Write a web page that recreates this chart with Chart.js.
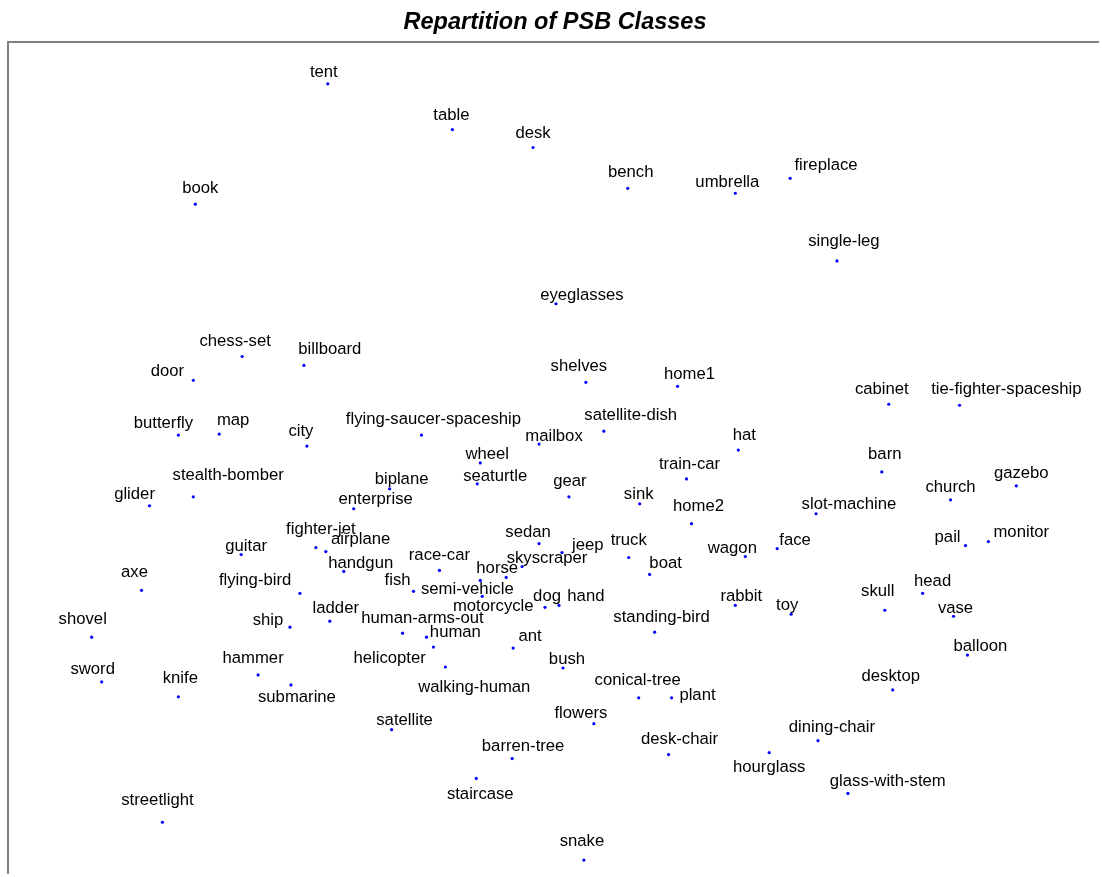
<!DOCTYPE html>
<html>
<head>
<meta charset="utf-8">
<script src="https://cdn.jsdelivr.net/npm/chart.js@4"></script>
<style>
  html, body { margin: 0; padding: 0; background: #fff; overflow: hidden; }
  canvas { display: block; }
</style>
</head>
<body>
<canvas id="psb_chart" width="1102" height="877"></canvas>
<script>
// 2D embedding of the PSB classes, one point per class
classes = ['tent', 'table', 'desk', 'book', 'bench', 'umbrella', 'fireplace', 'single-leg', 'eyeglasses',
  'chess-set', 'billboard', 'door', 'shelves', 'home1', 'cabinet', 'tie-fighter-spaceship', 'butterfly', 'map',
  'city', 'flying-saucer-spaceship', 'mailbox', 'satellite-dish', 'hat', 'wheel', 'seaturtle', 'train-car', 'barn',
  'gazebo', 'glider', 'stealth-bomber', 'biplane', 'enterprise', 'gear', 'sink', 'church', 'home2', 'slot-machine',
  'fighter-jet', 'airplane', 'guitar', 'sedan', 'jeep', 'truck', 'wagon', 'face', 'pail', 'monitor', 'handgun',
  'race-car', 'skyscraper', 'boat', 'horse', 'axe', 'flying-bird', 'fish', 'semi-vehicle', 'motorcycle', 'dog',
  'hand', 'rabbit', 'toy', 'skull', 'head', 'vase', 'shovel', 'ship', 'ladder', 'human-arms-out', 'human',
  'standing-bird', 'ant', 'helicopter', 'balloon', 'hammer', 'bush', 'sword', 'knife', 'walking-human', 'submarine',
  'conical-tree', 'plant', 'desktop', 'flowers', 'satellite', 'dining-chair', 'desk-chair', 'hourglass',
  'barren-tree', 'staircase', 'glass-with-stem', 'streetlight', 'snake']

xs = [-22.6, -10.1, -2.0, -35.9, 7.5, 18.3, 23.8, 28.5, 0.3,
  -31.2, -25.0, -36.1, 3.3, 12.5, 33.7, 40.8, -37.6, -33.5,
  -24.7, -13.2, -1.4, 5.1, 18.6, -7.3, -7.6, 13.4, 33.0,
  46.5, -40.5, -36.1, -16.4, -20.0, 1.6, 8.7, 39.9, 13.9, 26.4,
  -23.8, -22.8, -31.3, -1.4, 0.9, 7.6, 19.3, 22.5, 41.4, 43.7, -21.0,
  -11.4, -3.1, 9.7, -4.7, -41.3, -25.4, -14.0, -7.3, -7.1, -0.8,
  0.6, 18.3, 23.9, 33.3, 37.1, 40.2, -46.3, -26.4, -22.4, -15.1, -12.7,
  10.2, -4.0, -12.0, 41.6, -29.6, 1.0, -45.3, -37.6, -10.8, -26.3,
  8.6, 11.9, 34.1, 4.1, -16.2, 26.6, 11.6, 21.7,
  -4.1, -7.7, 29.6, -39.2, 3.1]

ys = [37.6, 33.0, 31.2, 25.5, 27.1, 26.6, 28.1, 19.8, 15.5,
  10.2, 9.3, 7.8, 7.6, 7.2, 5.4, 5.3, 2.3, 2.4,
  1.2, 2.3, 1.4, 2.7, 0.8, -0.5, -2.6, -2.1, -1.4,
  -2.8, -4.8, -3.9, -3.1, -5.1, -3.9, -4.6, -4.2, -6.6, -5.6,
  -9.0, -9.4, -9.7, -8.6, -9.5, -10.0, -9.9, -9.1, -8.8, -8.4, -11.4,
  -11.3, -10.9, -11.7, -12.0, -13.3, -13.6, -13.4, -12.3, -13.9, -15.0,
  -14.8, -14.8, -15.7, -15.3, -13.6, -15.9, -18.0, -17.0, -16.4, -17.6, -18.0,
  -17.5, -19.1, -19.0, -19.8, -21.8, -21.1, -22.5, -24.0, -21.0, -22.8,
  -24.1, -24.1, -23.3, -26.7, -27.3, -28.4, -29.8, -29.6,
  -30.2, -32.2, -33.7, -36.6, -40.4]

// where each class name is written, in the same data units
labelXs = [-23.0, -10.2, -2.0, -35.4, 7.8, 17.5, 27.4, 29.2, 2.9,
  -31.9, -22.4, -38.7, 2.6, 13.7, 33.0, 45.5, -39.1, -32.1,
  -25.3, -12.0, 0.1, 7.8, 19.2, -6.6, -5.8, 13.7, 33.3,
  47.0, -42.0, -32.6, -15.2, -17.8, 1.7, 8.6, 39.9, 14.6, 29.7,
  -23.3, -19.3, -30.8, -2.5, 3.5, 7.6, 18.0, 24.3, 39.6, 47.0, -19.3,
  -11.4, -0.6, 11.3, -5.6, -42.0, -29.9, -15.6, -8.6, -6.0, -0.6,
  3.3, 18.9, 23.5, 32.6, 38.1, 40.4, -47.2, -28.6, -21.8, -13.1, -9.8,
  10.9, -2.3, -16.4, 42.9, -30.1, 1.4, -46.2, -37.4, -7.9, -25.7,
  8.5, 14.5, 33.9, 2.8, -14.9, 28.0, 12.7, 21.7,
  -3.0, -7.3, 33.6, -39.7, 2.9]

labelYs = [38.8, 34.5, 32.7, 27.2, 28.8, 27.8, 29.5, 21.9, 16.4,
  11.8, 11.0, 8.8, 9.3, 8.5, 7.0, 7.0, 3.6, 3.9,
  2.8, 4.0, 2.3, 4.4, 2.4, 0.5, -1.7, -0.5, 0.5,
  -1.4, -3.6, -1.6, -2.1, -4.1, -2.3, -3.6, -2.9, -4.8, -4.6,
  -7.1, -8.1, -8.8, -7.4, -8.7, -8.2, -9.0, -8.2, -7.9, -7.4, -10.5,
  -9.7, -10.0, -10.5, -11.0, -11.4, -12.2, -12.2, -13.1, -14.8, -13.8,
  -13.8, -13.8, -14.7, -13.3, -12.3, -15.0, -16.1, -16.2, -15.0, -16.0, -17.4,
  -15.9, -17.8, -20.0, -18.8, -20.0, -20.1, -21.1, -22.0, -22.9, -24.0,
  -22.2, -23.8, -21.8, -25.6, -26.3, -27.0, -28.2, -31.0,
  -28.9, -33.7, -32.4, -34.3, -38.4]

points = classes.map((c, i) => ({x: xs[i], y: ys[i]}))

// writes the class names next to their points
classLabels = {
  id: 'classLabels',
  afterDatasetsDraw(chart) {
    const ctx = chart.ctx
    const sx = chart.scales.x, sy = chart.scales.y
    ctx.save()
    ctx.font = '16.7px "Liberation Sans", Arial, sans-serif'
    ctx.fillStyle = '#000'
    ctx.textAlign = 'center'
    ctx.textBaseline = 'middle'
    classes.forEach((c, i) => {
      ctx.fillText(c, sx.getPixelForValue(labelXs[i]), sy.getPixelForValue(labelYs[i]) + 1)
    })
    ctx.restore()
  }
}

config = {
  type: 'scatter',
  data: {
    datasets: [{
      label: 'PSB classes',
      data: points,
      backgroundColor: '#0000ff',
      borderWidth: 0,
      pointRadius: 1.6,
    }]
  },
  options: {
    responsive: false,
    animation: false,
    layout: { padding: { left: 8, right: 0, top: 0, bottom: 0 } },
    plugins: {
      legend: { display: false },
      tooltip: { enabled: false },
      title: {
        display: true,
        text: 'Repartition of PSB Classes',
        color: '#000',
        font: { family: '"Liberation Sans", Arial, sans-serif', size: 23.5, weight: 'bold', style: 'italic' },
        padding: { top: 8, bottom: 5.8 },
      },
    },
    scales: {
      x: {
        type: 'linear',
        position: 'top',
        min: -54.7,
        max: 54.7,
        ticks: { display: false },
        grid: { display: false, drawTicks: false },
        border: { display: true, color: '#808080', width: 2 },
      },
      y: {
        type: 'linear',
        position: 'left',
        min: -41.7,
        max: 41.8,
        ticks: { display: false },
        grid: { display: false, drawTicks: false },
        border: { display: true, color: '#808080', width: 2 },
      },
    },
  },
  plugins: [classLabels],
}

ctx = document.getElementById('psb_chart')
new Chart(ctx, config)
</script>
</body>
</html>
